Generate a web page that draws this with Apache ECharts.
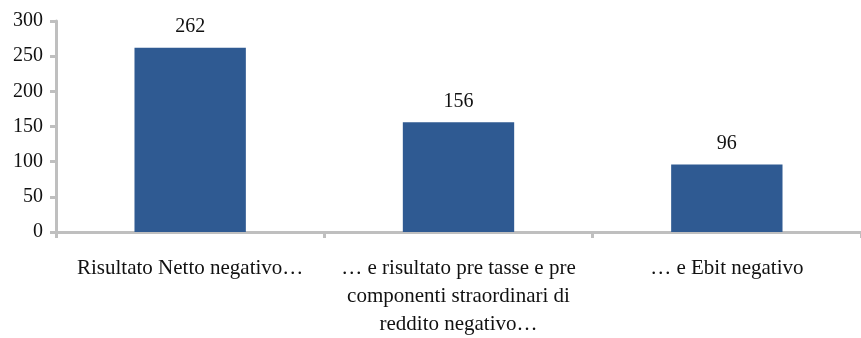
<!DOCTYPE html>
<html>
<head>
<meta charset="utf-8">
<script src="https://cdn.jsdelivr.net/npm/echarts@6/dist/echarts.min.js"></script>
<style>
  html, body { margin: 0; padding: 0; background: #fff; }
  #chart { width: 861px; height: 338px; }
</style>
</head>
<body>
<div id="chart"></div>
<script>
// values
const categories = [
    'Risultato Netto negativo…',
    '… e risultato pre tasse e pre\ncomponenti straordinari di\nreddito negativo…',
    '… e Ebit negativo'
];
const values = [262, 156, 96];
const yMin = 0;
const yMax = 300;
const yStep = 50;

const serif = '"Liberation Serif", "DejaVu Serif", serif';
const axisGrey = '#BFBFBF';

const chart = echarts.init(document.getElementById('chart'), null, { renderer: 'canvas' });

chart.setOption({
    animation: false,
    grid: { left: 56, right: 0, top: 21, bottom: 105 },
    xAxis: {
        type: 'category',
        data: categories,
        axisLine: { lineStyle: { color: axisGrey, width: 3 } },
        axisTick: { show: true, alignWithLabel: false, length: 6, lineStyle: { color: axisGrey, width: 3 } },
        axisLabel: {
            color: '#111',
            fontFamily: serif,
            fontSize: 21,
            lineHeight: 28,
            margin: 22,
            interval: 0
        }
    },
    yAxis: {
        type: 'value',
        min: yMin,
        max: yMax,
        interval: yStep,
        splitLine: { show: false },
        axisLine: { show: true, lineStyle: { color: axisGrey, width: 3 } },
        axisTick: { show: true, length: 6, lineStyle: { color: axisGrey, width: 3 } },
        axisLabel: {
            color: '#111',
            fontFamily: serif,
            fontSize: 20,
            margin: 13
        }
    },
    series: [{
        type: 'bar',
        data: values,
        barWidth: '41.5%',
        itemStyle: { color: '#2F5A92' },
        label: {
            show: true,
            position: 'top',
            distance: 11,
            color: '#111',
            fontFamily: serif,
            fontSize: 20
        }
    }]
});
</script>
</body>
</html>
